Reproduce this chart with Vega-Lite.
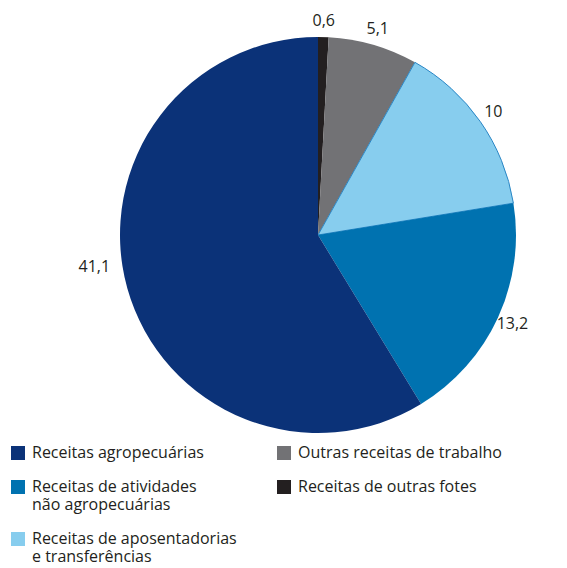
{
  "$schema": "https://vega.github.io/schema/vega-lite/v6.json",
  "width": 396,
  "height": 396,
  "autosize": {"type": "none"},
  "padding": {"left": 120, "top": 37, "right": 51, "bottom": 135},
  "background": "white",
  "config": {
    "view": {"stroke": null},
    "font": "Open Sans",
    "locale": {"number": {"decimal": ",", "thousands": ".", "grouping": [3], "currency": ["R$", ""]}}
  },
  "data": {
    "values": [
      {"categoria": "Receitas de outras fotes", "valor": 0.6, "ordem": 1},
      {"categoria": "Outras receitas de trabalho", "valor": 5.1, "ordem": 2},
      {"categoria": "Receitas de aposentadorias e transferências", "valor": 10, "ordem": 3},
      {"categoria": "Receitas de atividades não agropecuárias", "valor": 13.2, "ordem": 4},
      {"categoria": "Receitas agropecuárias", "valor": 41.1, "ordem": 5}
    ]
  },
  "encoding": {
    "theta": {"field": "valor", "type": "quantitative", "stack": true},
    "order": {"field": "ordem", "type": "quantitative"}
  },
  "layer": [
    {
      "mark": {"type": "arc", "strokeWidth": 1},
      "encoding": {
        "color": {
          "field": "categoria",
          "type": "nominal",
          "scale": {
            "domain": [
              "Receitas agropecuárias",
              "Receitas de atividades não agropecuárias",
              "Receitas de aposentadorias e transferências",
              "Outras receitas de trabalho",
              "Receitas de outras fotes"
            ],
            "range": ["#0b3278", "#0072b0", "#87cdee", "#727275", "#231f20"]
          },
          "legend": {
            "title": null,
            "orient": "none",
            "legendX": -110,
            "legendY": 408,
            "columns": 2,
            "columnPadding": 39,
            "rowPadding": 18,
            "padding": 0,
            "symbolType": "square",
            "symbolSize": 196,
            "symbolStrokeWidth": 0,
            "labelFont": "Open Sans",
            "labelFontSize": 16,
            "labelColor": "#231f20",
            "labelOffset": 6,
            "labelLimit": 400,
            "labelExpr": "datum.label == 'Receitas de atividades não agropecuárias' ? ['Receitas de atividades', 'não agropecuárias'] : datum.label == 'Receitas de aposentadorias e transferências' ? ['Receitas de aposentadorias', 'e transferências'] : datum.label",
            "encode": {"labels": {"update": {"lineHeight": {"value": 22}}}}
          }
        },
        "stroke": {
          "condition": {"test": "datum.ordem == 3", "value": "#2a86c5"},
          "value": null
        }
      }
    },
    {
      "mark": {"type": "text", "radius": 214, "fontSize": 16, "font": "Open Sans", "color": "#231f20"},
      "encoding": {
        "text": {
          "condition": {"test": "datum.ordem != 5", "field": "valor", "type": "quantitative", "format": ".1~f"},
          "value": ""
        }
      }
    },
    {
      "mark": {"type": "text", "radius": 226, "thetaOffset": 0.13, "fontSize": 16, "font": "Open Sans", "color": "#231f20"},
      "encoding": {
        "text": {
          "condition": {"test": "datum.ordem == 5", "field": "valor", "type": "quantitative", "format": ".1~f"},
          "value": ""
        }
      }
    }
  ]
}
